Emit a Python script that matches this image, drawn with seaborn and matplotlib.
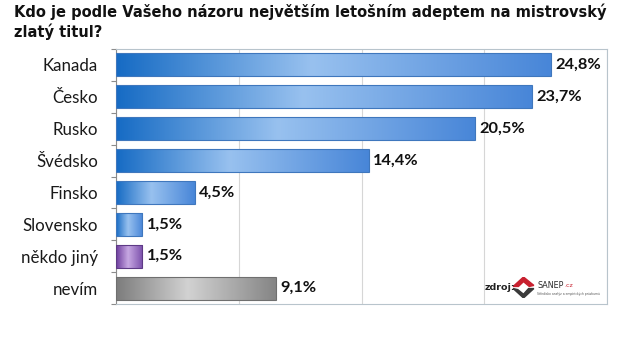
import numpy as np
import pandas as pd
import matplotlib
matplotlib.use("Agg")
import matplotlib.pyplot as plt
import seaborn as sns
from matplotlib.colors import LinearSegmentedColormap
from matplotlib.patches import Polygon

# Survey answers (share of respondents, %)
categories = ["Kanada", "Česko", "Rusko", "Švédsko", "Finsko",
              "Slovensko", "někdo jiný", "nevím"]
values = [24.8, 23.7, 20.5, 14.4, 4.5, 1.5, 1.5, 9.1]
groups = ["team", "team", "team", "team", "team", "team", "other", "unknown"]
value_labels = ["24,8%", "23,7%", "20,5%", "14,4%", "4,5%", "1,5%", "1,5%", "9,1%"]
x_ticks = [0, 7, 14, 21, 28]

title = "Kdo je podle Vašeho názoru největším letošním adeptem na mistrovský\nzlatý titul?"

df = pd.DataFrame({"kategorie": categories, "podil": values, "skupina": groups})

sns.set_theme(style="white")
plt.rcParams["font.family"] = ["Lato", "DejaVu Sans"]

fig = plt.figure(figsize=(6.32, 3.44), dpi=100)
ax = fig.add_axes([116 / 632, 1 - 304 / 344, (607 - 116) / 632, (304 - 49) / 344])

sns.barplot(data=df, x="podil", y="kategorie", orient="h", width=0.72,
            color="#4a88d8", ax=ax, zorder=2)

# horizontal gradient fills (dark - light - dark) clipped to each bar
gradients = {
    "team": (["#166bc4", "#98c1ef", "#4886d8"], "#3f77bd"),
    "other": (["#6b3a9c", "#c7a8e2", "#7a4fab"], "#5e3a86"),
    "unknown": (["#7c7c7c", "#d2d2d2", "#858585"], "#6f6f6f"),
}
ramp = np.linspace(0, 1, 256).reshape(1, -1)
for patch, grp in zip(ax.patches, groups):
    stops, edge = gradients[grp]
    cmap = LinearSegmentedColormap.from_list(grp, list(zip([0, 0.45, 1], stops)))
    x0, y0 = patch.get_x(), patch.get_y()
    w, h = patch.get_width(), patch.get_height()
    patch.set_facecolor("none")
    patch.set_edgecolor(edge)
    patch.set_linewidth(0.8)
    patch.set_zorder(4)
    im = ax.imshow(ramp, cmap=cmap, extent=[x0, x0 + w, y0 + h, y0],
                   aspect="auto", interpolation="bilinear", zorder=3)
    im.set_clip_path(patch)

ax.set_xlim(0, 28)
ax.set_ylim(7.5, -0.5)
ax.set_xticks(x_ticks)
ax.set_xticklabels([])
ax.tick_params(axis="x", length=0)
ax.xaxis.grid(True, color="#d6d6d6", linewidth=0.8, zorder=0)
ax.set_axisbelow(True)

ax.set_yticks(range(len(categories)))
ax.set_yticklabels(categories, fontsize=12.2, color="#1a1a1a")
ax.set_yticks(np.arange(-0.5, len(categories), 1), minor=True)
ax.tick_params(axis="y", which="major", length=0, pad=13)
ax.tick_params(axis="y", which="minor", length=3.5, width=0.8, color="#8c8c8c", left=True)
ax.set_xlabel("")
ax.set_ylabel("")

for side in ["top", "right", "bottom"]:
    ax.spines[side].set_color("#b8c4cc")
    ax.spines[side].set_linewidth(0.8)
ax.spines["left"].set_color("#8c8c8c")
ax.spines["left"].set_linewidth(0.8)

for i, (v, lab) in enumerate(zip(values, value_labels)):
    ax.text(v + 0.25, i, lab, va="center", ha="left", fontsize=11.8,
            fontweight="bold", color="#111111", zorder=5)

fig.text(14 / 632, 1 - 3 / 344, title, ha="left", va="top", fontsize=10.5,
         fontweight="bold", family=["DejaVu Sans"], color="#111111", linespacing=1.3)

# source note with the SANEP mark
fig.text(485 / 632, 1 - 288 / 344, "zdroj:", ha="left", va="center",
         fontsize=6.8, fontweight="bold", family=["DejaVu Sans"], color="#222222")
logo_ax = fig.add_axes([512 / 632, 1 - 298 / 344, 23 / 632, 21 / 344])
logo_ax.set_xlim(0, 1)
logo_ax.set_ylim(0, 1)
logo_ax.axis("off")
logo_ax.add_patch(Polygon([[0.05, 0.55], [0.5, 1.0], [0.95, 0.6], [0.75, 0.55],
                           [0.5, 0.78], [0.28, 0.55]], closed=True, color="#c8202f"))
logo_ax.add_patch(Polygon([[0.05, 0.45], [0.25, 0.4], [0.5, 0.18], [0.72, 0.45],
                           [0.95, 0.45], [0.5, 0.0]], closed=True, color="#3a3a3a"))
fig.text(537 / 632, 1 - 285 / 344, "SANEP", ha="left", va="center",
         fontsize=5.8, family=["DejaVu Sans"], color="#2b2b2b")
fig.text(564 / 632, 1 - 285.5 / 344, ".cz", ha="left", va="center",
         fontsize=4.5, family=["DejaVu Sans"], color="#c8202f")
fig.text(537 / 632, 1 - 294 / 344, "Středisko analýz a empirických průzkumů",
         ha="left", va="center", fontsize=2.2, family=["DejaVu Sans"], color="#555555")

fig.savefig("out.png", dpi=100, facecolor="white")
